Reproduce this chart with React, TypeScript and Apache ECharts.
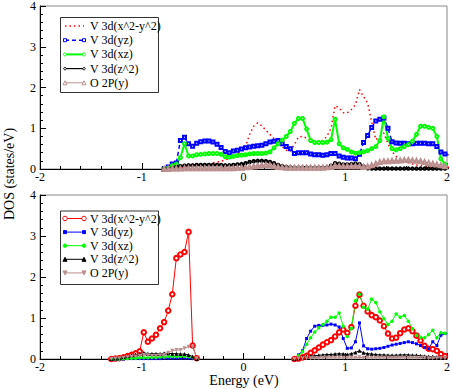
import React, { useEffect, useRef } from "react";
import * as echarts from "echarts";

// ---------- data ----------
const seriesNames = ["V 3d(x^2-y^2)", "V 3d(yz)", "V 3d(xz)", "V 3d(z^2)", "O 2P(y)"];
const xTicks = [-2, -1, 0, 1, 2];
const yTicks = [0, 1, 2, 3, 4];

const topEnergy = [
  -0.78, -0.74, -0.70, -0.66, -0.62, -0.58, -0.54, -0.50, -0.46, -0.42,
  -0.38, -0.34, -0.30, -0.26, -0.22, -0.18, -0.14, -0.10, -0.06, -0.02,
  0.02, 0.06, 0.10, 0.14, 0.18, 0.22, 0.26, 0.30, 0.34, 0.38,
  0.42, 0.46, 0.50, 0.54, 0.58, 0.62, 0.66, 0.70, 0.74, 0.78,
  0.82, 0.86, 0.90, 0.94, 0.98, 1.02, 1.06, 1.10, 1.14, 1.18,
  1.22, 1.26, 1.30, 1.34, 1.38, 1.42, 1.46, 1.50, 1.54, 1.58,
  1.62, 1.66, 1.70, 1.74, 1.78, 1.82, 1.86, 1.90, 1.94, 1.98,
  2.02,
];
const topX2Y2 = [
  0, 0, 0.01, 0.02, 0.03, 0.04, 0.05, 0.06, 0.07, 0.09,
  0.11, 0.13, 0.15, 0.17, 0.19, 0.22, 0.26, 0.30, 0.36, 0.45,
  0.55, 0.85, 1.05, 1.13, 1.06, 0.95, 0.85, 0.75, 0.65, 0.55,
  0.46, 0.44, 0.60, 0.78, 0.80, 0.76, 0.70, 0.68, 0.67, 0.70,
  0.80, 1.0, 1.55, 1.50, 1.38, 1.38, 1.46, 1.58, 1.95, 1.78,
  1.62, 1.15, 0.72, 0.80, 0.88, 0.62, 0.43, 0.31, 0.24, 0.18,
  0.15, 0.12, 0.10, 0.08, 0.06, 0.05, 0.05, 0.04, 0.04, 0.04,
  0.04,
];
const topYZ = [
  0, 0.05, 0.12, 0.15, 0.70, 0.78, 0.62, 0.56, 0.63, 0.67,
  0.69, 0.69, 0.66, 0.61, 0.53, 0.43, 0.40, 0.44, 0.46, 0.49,
  0.52, 0.54, 0.56, 0.57, 0.58, 0.62, 0.66, 0.68, 0.70, 0.62,
  0.55, 0.50, 0.38, 0.40, 0.40, 0.40, 0.37, 0.35, 0.35, 0.34,
  0.35, 0.38, 0.38, 0.32, 0.29, 0.27, 0.27, 0.25, 0.36, 0.65,
  0.82, 1.02, 1.18, 1.22, 1.25, 1.0, 0.67, 0.64, 0.63, 0.63,
  0.62, 0.62, 0.63, 0.63, 0.63, 0.62, 0.62, 0.55, 0.42, 0.37,
  0.35,
];
const topXZ = [
  0, 0.02, 0.08, 0.12, 0.28, 0.62, 0.32, 0.32, 0.35, 0.36,
  0.37, 0.38, 0.38, 0.38, 0.36, 0.30, 0.29, 0.31, 0.33, 0.34,
  0.35, 0.37, 0.38, 0.38, 0.38, 0.39, 0.42, 0.52, 0.62, 0.71,
  0.80, 0.92, 1.12, 1.24, 1.24, 0.98, 0.70, 0.65, 0.65, 0.65,
  0.66, 0.72, 1.22, 0.62, 0.52, 0.48, 0.42, 0.39, 0.40, 0.42,
  0.45, 0.50, 0.55, 0.70, 1.28, 0.75, 0.50, 0.47, 0.50, 0.55,
  0.60, 0.68, 0.85, 1.05, 1.05, 1.02, 1.0, 0.80, 0.25, 0.12,
  0.08,
];
const topZ2 = [
  0, 0, 0.02, 0.05, 0.07, 0.08, 0.09, 0.09, 0.10, 0.10,
  0.10, 0.10, 0.10, 0.10, 0.10, 0.09, 0.09, 0.10, 0.11, 0.12,
  0.14, 0.17, 0.19, 0.20, 0.20, 0.19, 0.17, 0.14, 0.10, 0.07,
  0.05, 0.04, 0.03, 0.03, 0.03, 0.03, 0.03, 0.03, 0.03, 0.03,
  0.04, 0.08, 0.14, 0.13, 0.11, 0.11, 0.12, 0.13, 0.12, 0.06,
  0.02, 0.01, 0.01, 0.01, 0.01, 0.01, 0.01, 0.01, 0.01, 0.01,
  0.01, 0.01, 0.01, 0.01, 0.01, 0.01, 0.01, 0.01, 0.01, 0.01,
  0.01,
];
const topO2P = [
  0, 0, 0.01, 0.01, 0.01, 0.02, 0.02, 0.02, 0.02, 0.02,
  0.02, 0.02, 0.02, 0.02, 0.02, 0.02, 0.02, 0.02, 0.03, 0.03,
  0.04, 0.05, 0.06, 0.08, 0.09, 0.10, 0.09, 0.07, 0.05, 0.04,
  0.03, 0.03, 0.03, 0.03, 0.03, 0.03, 0.03, 0.03, 0.03, 0.03,
  0.04, 0.05, 0.08, 0.07, 0.07, 0.07, 0.07, 0.07, 0.07, 0.05,
  0.06, 0.09, 0.13, 0.17, 0.19, 0.19, 0.20, 0.20, 0.21, 0.22,
  0.22, 0.21, 0.20, 0.19, 0.17, 0.15, 0.13, 0.11, 0.09, 0.07,
  0.06,
];

const botLeftEnergy = [
  -1.30, -1.26, -1.22, -1.18, -1.14, -1.10, -1.06, -1.02, -0.98, -0.94,
  -0.90, -0.86, -0.82, -0.78, -0.74, -0.70, -0.66, -0.62, -0.58, -0.54,
  -0.50, -0.46,
];
const botRightEnergy = [
  0.50, 0.54, 0.58, 0.62, 0.66, 0.70, 0.74, 0.78, 0.82, 0.86,
  0.90, 0.94, 0.98, 1.02, 1.06, 1.10, 1.14, 1.18, 1.22, 1.26,
  1.30, 1.34, 1.38, 1.42, 1.46, 1.50, 1.54, 1.58, 1.62, 1.66,
  1.70, 1.74, 1.78, 1.82, 1.86, 1.90, 1.94, 1.98, 2.02,
];
const botX2Y2Left = [
  0, 0.01, 0.02, 0.04, 0.07, 0.10, 0.14, 0.19, 0.65, 0.42,
  0.50, 0.59, 0.75, 0.90, 1.18, 1.58, 2.46, 2.55, 2.61, 3.10,
  0.33, 0.02,
];
const botX2Y2Right = [
  0, 0.01, 0.04, 0.08, 0.15, 0.21, 0.28, 0.35, 0.41, 0.46,
  0.55, 0.65, 0.72, 0.64, 0.78, 1.30, 1.57, 1.30, 1.16, 1.07,
  1.02, 0.94, 0.80, 0.62, 0.50, 0.52, 0.63, 0.72, 0.75, 0.68,
  0.57, 0.45, 0.32, 0.25, 0.24, 0.20, 0.12, 0.07, 0.04,
];
const botYZLeft = [
  0, 0, 0, 0, 0.01, 0.01, 0.01, 0.01, 0.01, 0.01,
  0.01, 0.01, 0.01, 0.02, 0.02, 0.02, 0.02, 0.02, 0.02, 0.02,
  0.01, 0,
];
const botYZRight = [
  0, 0.10, 0.20, 0.50, 0.68, 0.80, 0.82, 0.82, 0.83, 0.85,
  0.83, 0.78, 0.50, 0.26, 0.27, 0.42, 0.88, 0.32, 0.25, 0.24,
  0.25, 0.26, 0.28, 0.31, 0.34, 0.36, 0.38, 0.40, 0.42, 0.40,
  0.37, 0.33, 0.28, 0.25, 0.42, 0.33, 0.58, 0.62, 0.62,
];
const botXZLeft = [
  0, 0, 0, 0.01, 0.01, 0.02, 0.02, 0.03, 0.03, 0.03,
  0.04, 0.04, 0.05, 0.05, 0.06, 0.06, 0.06, 0.07, 0.07, 0.06,
  0.04, 0,
];
const botXZRight = [
  0, 0.08, 0.18, 0.36, 0.52, 0.66, 0.76, 0.84, 0.92, 1.02,
  1.02, 1.12, 0.80, 0.55, 0.75, 1.42, 1.58, 1.26, 1.22, 1.46,
  1.38, 1.15, 0.98, 0.84, 0.92, 1.10, 1.02, 1.06, 0.92, 0.74,
  0.58, 0.53, 0.52, 0.60, 0.70, 0.52, 0.64, 0.63, 0.62,
];
const botZ2Left = [
  0, 0.02, 0.03, 0.05, 0.07, 0.09, 0.11, 0.13, 0.15, 0.13,
  0.13, 0.13, 0.13, 0.14, 0.14, 0.13, 0.13, 0.12, 0.12, 0.10,
  0.06, 0,
];
const botZ2Right = [
  0, 0.02, 0.04, 0.06, 0.07, 0.08, 0.09, 0.10, 0.11, 0.11,
  0.12, 0.13, 0.12, 0.11, 0.13, 0.16, 0.20, 0.15, 0.13, 0.12,
  0.11, 0.10, 0.10, 0.09, 0.09, 0.09, 0.10, 0.10, 0.10, 0.09,
  0.09, 0.08, 0.07, 0.06, 0.06, 0.05, 0.05, 0.04, 0.04,
];
const botO2PLeft = [
  0, 0.01, 0.02, 0.03, 0.04, 0.05, 0.06, 0.08, 0.10, 0.09,
  0.08, 0.08, 0.09, 0.10, 0.15, 0.20, 0.22, 0.22, 0.26, 0.30,
  0.30, 0.02,
];
const botO2PRight = [
  0, 0.01, 0.01, 0.02, 0.02, 0.02, 0.02, 0.03, 0.03, 0.03,
  0.03, 0.03, 0.03, 0.03, 0.03, 0.03, 0.04, 0.03, 0.03, 0.03,
  0.03, 0.03, 0.03, 0.03, 0.03, 0.03, 0.03, 0.03, 0.03, 0.03,
  0.03, 0.03, 0.03, 0.02, 0.02, 0.02, 0.02, 0.02, 0.02,
];

// ---------- styling ----------
const RED = "#ff0000";
const BLUE = "#0000ff";
const GREEN = "#00ff00";
const BLACK = "#000000";
const PINK = "#bc8f8f";
const FONT = "Liberation Serif";

const pairs = (xs: number[], ys: number[]) => xs.map((x, i) => [x, ys[i]]);
const split = (l: number[], r: number[]) => [
  ...pairs(botLeftEnergy, l),
  [0, "-"],
  ...pairs(botRightEnergy, r),
];

type LegSpec = {
  color: string;
  dash?: number[];
  width: number;
  sym?: "circle" | "rect" | "tri" | "triDown";
  size?: number;
  filled?: boolean;
};

const topLeg: LegSpec[] = [
  { color: RED, dash: [1.5, 3], width: 1.5 },
  { color: BLUE, dash: [4, 3], width: 1.5, sym: "rect", size: 3, filled: false },
  { color: GREEN, width: 2, sym: "circle", size: 3, filled: false },
  { color: BLACK, width: 1.2, sym: "circle", size: 2.5, filled: false },
  { color: PINK, width: 1, sym: "tri", size: 4, filled: false },
];
const botLeg: LegSpec[] = [
  { color: RED, width: 1, sym: "circle", size: 4.5, filled: false },
  { color: BLUE, width: 1, sym: "rect", size: 3, filled: true },
  { color: GREEN, width: 1, sym: "circle", size: 3.5, filled: true },
  { color: BLACK, width: 1, sym: "tri", size: 4, filled: true },
  { color: PINK, width: 1, sym: "triDown", size: 4, filled: true },
];

function symbolEl(spec: LegSpec, cx: number, cy: number) {
  const s = spec.size || 4;
  const style = {
    fill: spec.filled ? spec.color : "#fff",
    stroke: spec.color,
    lineWidth: 1,
  };
  if (spec.sym === "circle")
    return { type: "circle", shape: { cx, cy, r: s / 2 }, style, z: 101 };
  if (spec.sym === "rect")
    return {
      type: "rect",
      shape: { x: cx - s / 2, y: cy - s / 2, width: s, height: s },
      style,
      z: 101,
    };
  if (spec.sym === "tri")
    return {
      type: "polygon",
      shape: { points: [[cx, cy - s / 2], [cx + s / 2, cy + s / 2], [cx - s / 2, cy + s / 2]] },
      style,
      z: 101,
    };
  return {
    type: "polygon",
    shape: { points: [[cx, cy + s / 2], [cx + s / 2, cy - s / 2], [cx - s / 2, cy - s / 2]] },
    style,
    z: 101,
  };
}

function legend(specs: LegSpec[], boxTop: number, firstRow: number, rowGap: number, boxH: number) {
  const els: any[] = [
    {
      type: "rect",
      shape: { x: 60.5, y: boxTop + 0.5, width: 98, height: boxH },
      style: { fill: "#fff", stroke: "#333", lineWidth: 1 },
      z: 99,
    },
  ];
  specs.forEach((sp, i) => {
    const y = firstRow + i * rowGap;
    els.push({
      type: "line",
      shape: { x1: 65, y1: y, x2: 84, y2: y },
      style: { stroke: sp.color, lineWidth: sp.width, lineDash: sp.dash || null },
      z: 100,
    });
    if (sp.sym) {
      els.push(symbolEl(sp, 65, y));
      els.push(symbolEl(sp, 84, y));
    }
    els.push({
      type: "text",
      x: 90,
      y,
      style: {
        text: seriesNames[i],
        fontSize: 12,
        lineHeight: 12,
        fontFamily: FONT,
        fill: "#000",
        textAlign: "left",
        textVerticalAlign: "middle",
        align: "left",
        verticalAlign: "middle",
      },
      z: 101,
    });
  });
  return els;
}

function makeAxisX(gi: number) {
  return {
    gridIndex: gi,
    type: "value",
    min: xTicks[0],
    max: xTicks[xTicks.length - 1],
    interval: 1,
    axisLine: { show: true, onZero: false, lineStyle: { color: "#000", width: 1 } },
    axisTick: { show: true, inside: true, length: 6, lineStyle: { color: "#000" } },
    minorTick: { show: true, splitNumber: 5, length: 3, lineStyle: { color: "#000" } },
    splitLine: { show: false },
    axisLabel: { margin: 2, fontSize: 12, lineHeight: 12, fontFamily: FONT, color: "#000" },
  };
}
function makeAxisY(gi: number) {
  return {
    gridIndex: gi,
    type: "value",
    min: yTicks[0],
    max: yTicks[yTicks.length - 1],
    interval: 1,
    axisLine: { show: true, onZero: false, lineStyle: { color: "#000", width: 1 } },
    axisTick: { show: true, inside: true, length: 6, lineStyle: { color: "#000" } },
    minorTick: { show: true, splitNumber: 5, length: 3, lineStyle: { color: "#000" } },
    splitLine: { show: false },
    axisLabel: { margin: 4, fontSize: 12, lineHeight: 12, fontFamily: FONT, color: "#000" },
  };
}

function line(name: string, gi: number, data: any[], extra: any) {
  return {
    type: "line",
    name,
    xAxisIndex: gi,
    yAxisIndex: gi,
    data,
    silent: true,
    showAllSymbol: true,
    connectNulls: false,
    clip: true,
    ...extra,
  };
}

export default function App() {
  const ref = useRef<HTMLDivElement>(null);
  useEffect(() => {
    if (!ref.current) return;
    const chart = echarts.init(ref.current, undefined, { renderer: "svg" });
    const option: any = {
      animation: false,
      backgroundColor: "#fff",
      grid: [
        { left: 40, top: 5, width: 409, height: 164, show: true, borderColor: "#888", borderWidth: 1 },
        { left: 40, top: 195, width: 409, height: 164, show: true, borderColor: "#888", borderWidth: 1 },
      ],
      xAxis: [makeAxisX(0), makeAxisX(1)],
      yAxis: [makeAxisY(0), makeAxisY(1)],
      series: [
        line(seriesNames[0], 0, pairs(topEnergy, topX2Y2), {
          symbol: "none",
          lineStyle: { color: RED, width: 1.5, type: [1.5, 3] },
          itemStyle: { color: RED },
        }),
        line(seriesNames[1], 0, pairs(topEnergy, topYZ), {
          symbol: "emptyRect",
          symbolSize: 3,
          lineStyle: { color: BLUE, width: 1.5, type: [4, 3] },
          itemStyle: { color: BLUE, borderWidth: 1 },
        }),
        line(seriesNames[2], 0, pairs(topEnergy, topXZ), {
          symbol: "emptyCircle",
          symbolSize: 3,
          lineStyle: { color: GREEN, width: 2 },
          itemStyle: { color: GREEN, borderWidth: 1 },
        }),
        line(seriesNames[3], 0, pairs(topEnergy, topZ2), {
          symbol: "emptyCircle",
          symbolSize: 2.5,
          lineStyle: { color: BLACK, width: 1.2 },
          itemStyle: { color: BLACK, borderWidth: 1 },
        }),
        line(seriesNames[4], 0, pairs(topEnergy, topO2P), {
          symbol: "emptyTriangle",
          symbolSize: 4,
          lineStyle: { color: PINK, width: 1 },
          itemStyle: { color: PINK, borderWidth: 1 },
        }),
        line(seriesNames[0], 1, split(botX2Y2Left, botX2Y2Right), {
          symbol: "emptyCircle",
          symbolSize: 4.5,
          lineStyle: { color: RED, width: 1 },
          itemStyle: { color: RED, borderWidth: 1 },
        }),
        line(seriesNames[1], 1, split(botYZLeft, botYZRight), {
          symbol: "rect",
          symbolSize: 3,
          lineStyle: { color: BLUE, width: 1 },
          itemStyle: { color: BLUE },
        }),
        line(seriesNames[2], 1, split(botXZLeft, botXZRight), {
          symbol: "circle",
          symbolSize: 3.5,
          lineStyle: { color: GREEN, width: 1 },
          itemStyle: { color: GREEN },
        }),
        line(seriesNames[3], 1, split(botZ2Left, botZ2Right), {
          symbol: "triangle",
          symbolSize: 4,
          lineStyle: { color: BLACK, width: 1 },
          itemStyle: { color: BLACK },
        }),
        line(seriesNames[4], 1, split(botO2PLeft, botO2PRight), {
          symbol: "triangle",
          symbolRotate: 180,
          symbolSize: 4,
          lineStyle: { color: PINK, width: 1 },
          itemStyle: { color: PINK },
        }),
      ],
      graphic: [
        ...legend(topLeg, 17, 26, 14.2, 75),
        ...legend(botLeg, 210.5, 218.5, 13.6, 73.5),
        {
          type: "text",
          x: 244,
          y: 380.5,
          style: {
            text: "Energy (eV)",
            fontSize: 14,
            lineHeight: 14,
            fontFamily: FONT,
            fill: "#000",
            textAlign: "center",
            textVerticalAlign: "middle",
            align: "center",
            verticalAlign: "middle",
          },
        },
        {
          type: "text",
          x: 9,
          y: 174,
          rotation: Math.PI / 2,
          style: {
            text: "DOS (states/eV)",
            fontSize: 14,
            lineHeight: 14,
            fontFamily: FONT,
            fill: "#000",
            textAlign: "center",
            textVerticalAlign: "middle",
            align: "center",
            verticalAlign: "middle",
          },
        },
      ],
    };
    chart.setOption(option);
    return () => chart.dispose();
  }, []);
  return (
    <div
      ref={ref}
      style={{ position: "fixed", left: 0, top: 0, width: 453, height: 389, background: "#fff" }}
    />
  );
}
